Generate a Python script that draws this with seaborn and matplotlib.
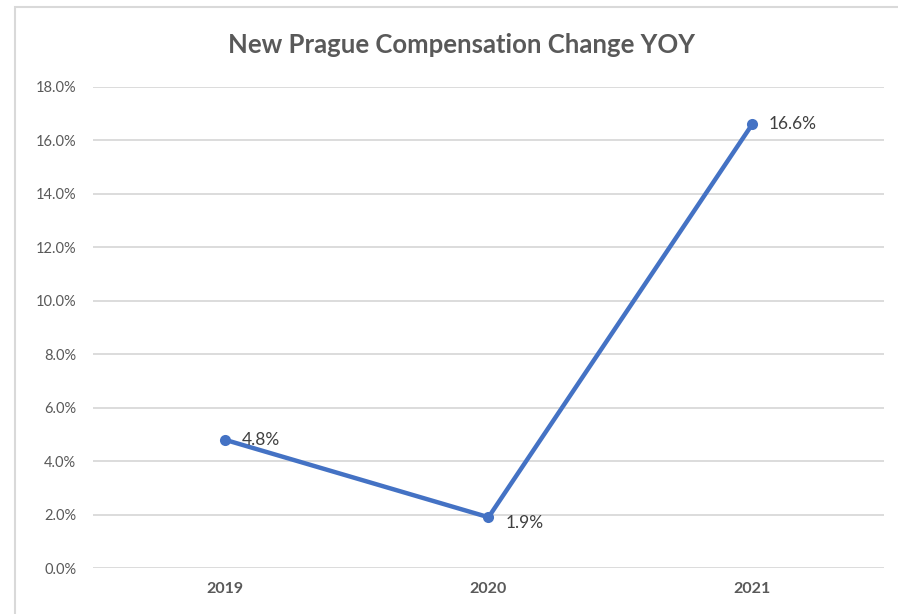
import matplotlib
matplotlib.use("Agg")
import matplotlib.pyplot as plt
import seaborn as sns
import pandas as pd
from matplotlib.patches import Rectangle
from matplotlib.ticker import FuncFormatter

years = ["2019", "2020", "2021"]
changes = [4.8, 1.9, 16.6]
labels = ["4.8%", "1.9%", "16.6%"]
title = "New Prague Compensation Change YOY"

sns.set_theme(style="white")
plt.rcParams['font.family'] = ['Lato', 'DejaVu Sans']

df = pd.DataFrame({"year": years, "change": changes})

fig = plt.figure(figsize=(8.98, 6.14), dpi=100)
fig.patch.set_facecolor("white")
# chart border
fig.add_artist(Rectangle((15/898, -0.1), 1.0, 1 - 7/614 + 0.1, transform=fig.transFigure,
                         fill=False, edgecolor="#d9d9d9", linewidth=1.5))

ax = fig.add_axes([93/898, 46/614, (884-93)/898, (568-87)/614])
sns.lineplot(data=df, x="year", y="change", ax=ax, color="#4472C4", linewidth=3.2,
             marker="o", markersize=8, markeredgewidth=0, sort=False)

ax.set_xlim(-0.5, 2.5)
ax.set_ylim(0, 18)
ax.set_yticks([0, 2, 4, 6, 8, 10, 12, 14, 16, 18])
ax.yaxis.set_major_formatter(FuncFormatter(lambda v, p: f"{v:.1f}%"))
ax.grid(axis="y", color="#d9d9d9", linewidth=1.3)
ax.set_axisbelow(True)
for s in ax.spines.values():
    s.set_visible(False)
ax.tick_params(axis="both", length=0)
ax.tick_params(axis="y", labelsize=10.5, labelcolor="#595959", pad=12)
ax.tick_params(axis="x", labelsize=11.5, labelcolor="#595959", pad=10)
for t in ax.get_xticklabels():
    t.set_fontweight("bold")
ax.set_xlabel("")
ax.set_ylabel("")

offsets = [(12, 0), (12, -4), (12, 0)]
for i, (v, lab) in enumerate(zip(changes, labels)):
    ax.annotate(lab, (i, v), xytext=offsets[i], textcoords="offset points",
                ha="left", va="center", fontsize=12.5, color="#404040")

fig.text(462/898, 1 - 45/614, title, ha="center", va="center", fontsize=18.5,
         fontweight="bold", color="#595959")

fig.savefig("out.png", dpi=100)
